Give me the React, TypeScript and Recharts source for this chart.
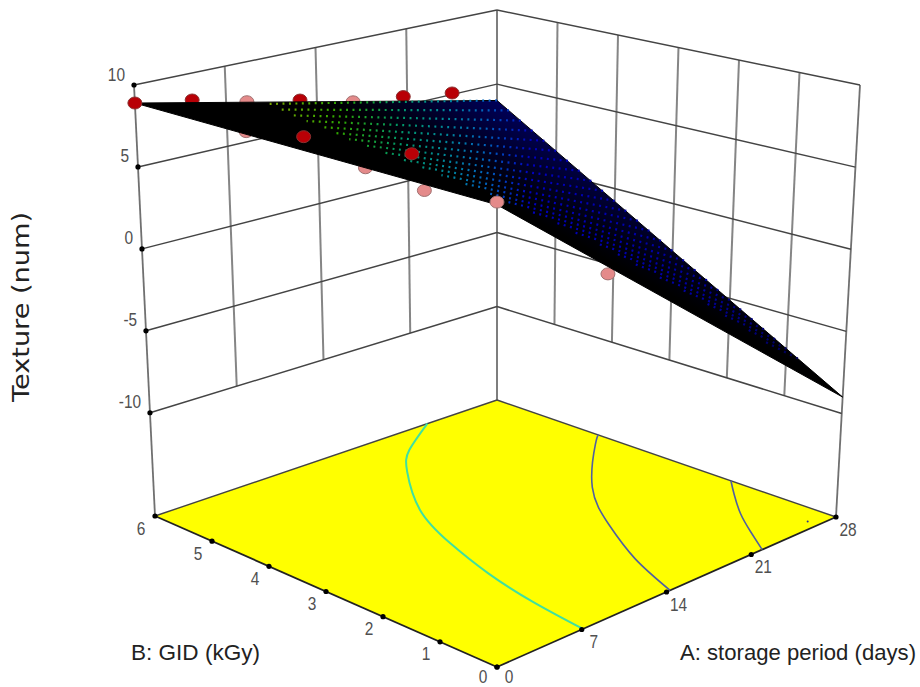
import { ComposedChart, Area, Line, Scatter, XAxis, YAxis } from "recharts";

// texture response surface
const dayTicks = [0, 7, 14, 21, 28];
const gidTicks = [0, 1, 2, 3, 4, 5, 6];
const textureTicks = [10, 5, 0, -5, -10];
const surfaceCornerTexture = { d0g0: 9.4, d28g0: -9, d0g6: 8.9, d28g6: 3.9 };

// rows of the mesh where the coloured cells show
const surfaceGid = [0.8, 1, 1.2, 1.4, 1.6, 1.8, 2, 2.2, 2.4, 2.6, 2.8, 3, 3.2, 3.4, 3.6, 3.8, 4, 4.2, 4.4, 4.6, 4.8, 5, 5.2, 5.4, 5.6, 5.8, 6];
const dotStartDay = [25, 24.5, 23.7, 23, 22, 21, 20.2, 19.5, 19, 18.2, 17.5, 16.8, 15.8, 15, 14.2, 13.4, 12.8, 12.2, 11.7, 11.2, 10.9, 10.7, 10.5, 10.4, 10.3, 10.1, 10];
const dotStartTexture = [-5.5, -4.83, -4, -3.26, -2.39, -1.54, -0.81, -0.17, 0.34, 0.99, 1.58, 2.13, 2.78, 3.32, 3.85, 4.33, 4.74, 5.11, 5.44, 5.77, 6.01, 6.22, 6.42, 6.6, 6.76, 6.95, 7.11];
const dotEndTexture = [-7.49, -7.1, -6.71, -6.31, -5.91, -5.51, -5.1, -4.69, -4.27, -3.85, -3.43, -3, -2.57, -2.13, -1.69, -1.25, -0.8, -0.35, 0.11, 0.57, 1.03, 1.5, 1.97, 2.45, 2.93, 3.42, 3.9];

// contours on the floor as [day, gid]
const contour5 = [[7.1, 0], [7.7, 1], [8.7, 2], [10.2, 3], [12.4, 4], [16, 5], [18.5, 5.5], [22.3, 6]];
const contour0 = [[14.3, 0], [16.1, 1], [18.6, 2], [21.9, 3], [26.8, 4], [28, 4.2]];
const contourMinus5 = [[21.9, 0], [23.3, 0.5], [24.8, 1], [26.6, 1.5], [28, 1.86]];

// design points as [day, gid, texture]
const pointsBehind = [
  [4.4, 6, 8.34, 1], [8.6, 6, 7.5, 0], [12.7, 6, 6.87, 1], [16.8, 6, 6, 0], [20.7, 6, 5.6, 1], [24.5, 6, 5.1, 1],
  [4.8, 5.2, 7.2, 0], [3.8, 3, 7.6, 0], [3.7, 2, 7.35, 0], [8.7, 0, 3.5, 0],
];
const pointsFront = [[0, 6, 8.9, 1], [3.7, 4, 8.4, 1], [7.4, 3, 7.7, 1], [0, 0, 9.55, 0]];

const FLOOR = -16.3;
const TOP = 10;

function bilinear(a: number, b: number, c00: number, c10: number, c01: number, c11: number) {
  return c00 * (1 - a) * (1 - b) + c10 * a * (1 - b) + c01 * (1 - a) * b + c11 * a * b;
}

// box corners on screen, everything else goes through here
function project(day: number, gid: number, z: number) {
  const a = day / 28;
  const b = gid / 6;
  const t = (z - FLOOR) / (TOP - FLOOR);
  const xf = bilinear(a, b, 497, 836, 155, 497);
  const yf = bilinear(a, b, 667, 517, 516, 400);
  const xt = bilinear(a, b, 497, 860, 134, 497);
  const yt = bilinear(a, b, 194, 85, 85, 10);
  return { x: xf + (xt - xf) * t, y: yf + (yt - yf) * t };
}

function seg(a: number[], b: number[]) {
  return [project(a[0], a[1], a[2]), project(b[0], b[1], b[2])];
}

const horizontals = textureTicks.flatMap((z) => [
  seg([0, 6, z], [28, 6, z]),
  seg([28, 6, z], [28, 0, z]),
]);
const verticals = [
  ...dayTicks.slice(1, 4).map((d) => seg([d, 6, -10], [d, 6, 10])),
  ...gidTicks.slice(1, 6).map((g) => seg([28, g, -10], [28, g, 10])),
];
const corners = [seg([0, 6, FLOOR], [0, 6, 10]), seg([28, 6, FLOOR], [28, 6, 10]), seg([28, 0, FLOOR], [28, 0, 10])];

function bandRows(z00: number, z10: number, z01: number, z11: number) {
  const left = project(0, 6, z01);
  const back = project(28, 6, z11);
  const front = project(0, 0, z00);
  const right = project(28, 0, z10);
  return [
    { x: left.x, y: left.y, band: [left.y, left.y] },
    { x: back.x, y: back.y, band: [back.y, front.y] },
    { x: right.x, y: right.y, band: [right.y, right.y] },
  ];
}
const floorRows = bandRows(FLOOR, FLOOR, FLOOR, FLOOR);
const c = surfaceCornerTexture;
const surfaceRows = bandRows(c.d0g0, c.d28g0, c.d0g6, c.d28g6);

const floorEdges = [
  seg([0, 6, FLOOR], [0, 0, FLOOR]),
  seg([0, 0, FLOOR], [28, 0, FLOOR]),
];
const floorBackEdges = [
  seg([0, 6, FLOOR], [28, 6, FLOOR]),
  seg([28, 6, FLOOR], [28, 0, FLOOR]),
];
const contourLine = (pts: number[][]) => pts.map((p) => project(p[0], p[1], FLOOR));

const tickDots = [
  ...gidTicks.map((g) => project(0, g, FLOOR)),
  ...dayTicks.map((d) => project(d, 0, FLOOR)),
  ...textureTicks.map((z) => project(0, 6, z)),
];
const strayMark = [project(26.5, 0.18, FLOOR)];

const tickLabels = [
  ...textureTicks.map((z) => {
    const p = project(0, 6, z);
    return { x: p.x - 9, y: p.y - 11, text: String(z), anchor: "end", size: 19 };
  }),
  ...gidTicks.map((g) => {
    const p = project(0, g, FLOOR);
    return g === 0
      ? { x: p.x - 14, y: p.y + 9.5, text: "0", anchor: "middle", size: 18 }
      : { x: p.x - 14, y: p.y + 12, text: String(g), anchor: "middle", size: 19 };
  }),
  ...dayTicks.map((d) => {
    const p = project(d, 0, FLOOR);
    return d === 0
      ? { x: p.x + 12, y: p.y + 9.5, text: "0", anchor: "middle", size: 18 }
      : { x: p.x + 12, y: p.y + 12, text: String(d), anchor: "middle", size: 19 };
  }),
];

const toPoint = (p: number[]) => ({ ...project(p[0], p[1], p[2]), hit: p[3] });

const PointMark = (props: any) => (
  <ellipse
    cx={props.cx}
    cy={props.cy}
    rx={7}
    ry={6}
    fill={props.payload.hit ? "#b80006" : "#e48a8a"}
    stroke={props.payload.hit ? "#8a3030" : "#a07070"}
    strokeWidth={1}
  />
);
const TickDot = (props: any) => <circle cx={props.cx} cy={props.cy} r={2.6} fill="#000" />;
const StrayDot = (props: any) => <circle cx={props.cx} cy={props.cy} r={1} fill="#30308a" />;
const TickLabel = (props: any) => {
  const text = props.payload.text;
  const digits = text.replace("-", "").length;
  return (
    <text
      x={props.cx}
      y={props.cy}
      textAnchor={props.payload.anchor}
      dominantBaseline="central"
      fontFamily="Liberation Sans"
      fontSize={props.payload.size}
      textLength={digits * 8.6 + (text.length - digits) * 5}
      lengthAdjust="spacingAndGlyphs"
      fill="#505050"
    >
      {text}
    </text>
  );
};

const titles = [
  { x: 21, y: 307, text: "Texture (num)", size: 23, rotate: -90, length: 190, font: "DejaVu Sans" },
  { x: 195.5, y: 652, text: "B: GID (kGy)", size: 22.5, rotate: 0, length: 129, font: "Liberation Sans" },
  { x: 798, y: 652, text: "A: storage period (days)", size: 22.5, rotate: 0, length: 236, font: "Liberation Sans" },
];
const TitleText = (props: any) => {
  const t = props.payload;
  return (
    <text
      x={props.cx}
      y={props.cy}
      textAnchor="middle"
      dominantBaseline="central"
      fontFamily={t.font}
      fontSize={t.size}
      textLength={t.length}
      lengthAdjust="spacingAndGlyphs"
      fill="#222"
      transform={t.rotate ? `rotate(${t.rotate} ${props.cx} ${props.cy})` : undefined}
    >
      {t.text}
    </text>
  );
};

export default function App() {
  return (
    <div style={{ position: "absolute", left: 0, top: 0, width: 920, height: 687 }}>
      <ComposedChart width={920} height={687} margin={{ top: 0, right: 0, bottom: 0, left: 0 }}>
        <defs>
          <linearGradient id="cellColor" gradientUnits="userSpaceOnUse" x1={134} y1={0} x2={842} y2={0}>
            <stop offset={0.17} stopColor="#8aa800" />
            <stop offset={0.29} stopColor="#2ea800" />
            <stop offset={0.375} stopColor="#009868" />
            <stop offset={0.44} stopColor="#00889a" />
            <stop offset={0.5} stopColor="#0060c0" />
            <stop offset={0.56} stopColor="#0000c0" />
            <stop offset={0.8} stopColor="#0000a0" />
            <stop offset={0.95} stopColor="#000050" />
          </linearGradient>
          <linearGradient id="surfaceShade" gradientUnits="userSpaceOnUse" x1={497} y1={100} x2={455} y2={176}>
            <stop offset={0} stopColor="#00005a" />
            <stop offset={0.75} stopColor="#000010" />
            <stop offset={1} stopColor="#000000" />
          </linearGradient>
        </defs>
        <XAxis type="number" dataKey="x" domain={[0, 920]} hide allowDataOverflow />
        <YAxis type="number" dataKey="y" domain={[0, 687]} reversed hide allowDataOverflow />

        {verticals.map((d, i) => (
          <Line key={`v${i}`} data={d} dataKey="y" stroke="#858585" strokeWidth={2} dot={false} isAnimationActive={false} zIndex={10} />
        ))}
        {corners.map((d, i) => (
          <Line key={`c${i}`} data={d} dataKey="y" stroke="#707070" strokeWidth={1.8} dot={false} isAnimationActive={false} zIndex={10} />
        ))}
        {horizontals.map((d, i) => (
          <Line key={`h${i}`} data={d} dataKey="y" stroke="#444" strokeWidth={1.5} dot={false} isAnimationActive={false} zIndex={11} />
        ))}

        <Area data={floorRows} dataKey="band" fill="#ffff00" fillOpacity={1} stroke="none" isAnimationActive={false} zIndex={12} />
        {floorBackEdges.map((d, i) => (
          <Line key={`fb${i}`} data={d} dataKey="y" stroke="#444" strokeWidth={1.4} dot={false} isAnimationActive={false} zIndex={13} />
        ))}
        {floorEdges.map((d, i) => (
          <Line key={`f${i}`} data={d} dataKey="y" stroke="#222" strokeWidth={1.8} dot={false} isAnimationActive={false} zIndex={13} />
        ))}
        <Line data={contourLine(contour5)} dataKey="y" type="natural" stroke="#40e0a0" strokeWidth={2} dot={false} isAnimationActive={false} zIndex={14} />
        <Line data={contourLine(contour0)} dataKey="y" type="natural" stroke="#5060a0" strokeWidth={1.6} dot={false} isAnimationActive={false} zIndex={14} />
        <Line data={contourLine(contourMinus5)} dataKey="y" type="natural" stroke="#5060a0" strokeWidth={1.6} dot={false} isAnimationActive={false} zIndex={14} />
        <Scatter data={strayMark} dataKey="y" shape={StrayDot} isAnimationActive={false} zIndex={14} />

        <Scatter data={pointsBehind.map(toPoint)} dataKey="y" shape={PointMark} isAnimationActive={false} zIndex={15} />

        <Area data={surfaceRows} dataKey="band" fill="url(#surfaceShade)" fillOpacity={1} stroke="#000" strokeWidth={1} isAnimationActive={false} zIndex={16} />
        {surfaceGid.map((g, i) => {
          const days = 28 - dotStartDay[i];
          return (
            <Line
              key={`r${i}`}
              data={[project(28, g, dotEndTexture[i]), project(dotStartDay[i], g, dotStartTexture[i])]}
              dataKey="y"
              stroke="url(#cellColor)"
              strokeWidth={2.2}
              pathLength={days / 0.5}
              strokeDasharray="0.3 0.7"
              dot={false}
              isAnimationActive={false}
              zIndex={17}
            />
          );
        })}

        <Scatter data={pointsFront.map(toPoint)} dataKey="y" shape={PointMark} isAnimationActive={false} zIndex={18} />
        <Scatter data={tickDots} dataKey="y" shape={TickDot} isAnimationActive={false} zIndex={18} />
        <Scatter data={tickLabels} dataKey="y" shape={TickLabel} isAnimationActive={false} zIndex={19} />
        <Scatter data={titles} dataKey="y" shape={TitleText} isAnimationActive={false} zIndex={19} />
      </ComposedChart>
    </div>
  );
}
